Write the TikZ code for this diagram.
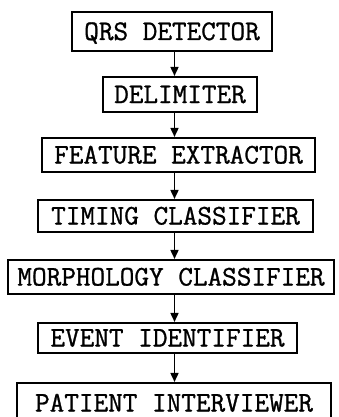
\documentclass[tikz,border=0pt]{standalone}
\usepackage{fontspec}
\newfontfamily\twfont{Latin Modern Mono}[FakeBold=1.0]
\usetikzlibrary{arrows.meta}
\tikzset{
  box/.style={draw, line width=1.5pt, rectangle, inner sep=0pt, align=center,
    font=\fontsize{28.4}{30}\selectfont\twfont, text height=17pt, text depth=0pt},
  arr/.style={line width=1.6pt, -{Triangle[length=9pt,width=8pt]}, shorten >=0.3pt}
}
\begin{document}
\begin{tikzpicture}[x=1pt,y=-1pt]
\useasboundingbox (0,0) rectangle (339,417);
\clip (0,0) rectangle (339,417);
\coordinate (ax) at (174.5,0);
\node[box, minimum width=200pt, minimum height=39pt] (n1) at (172,31.5) {QRS DETECTOR};
\node[box, minimum width=154pt, minimum height=35pt] (n2) at (180,94.5) {DELIMITER};
\node[box, minimum width=273pt, minimum height=34pt] (n3) at (178.5,155) {FEATURE EXTRACTOR};
\node[box, minimum width=275pt, minimum height=32pt] (n4) at (175.5,216) {TIMING CLASSIFIER};
\node[box, minimum width=326pt, minimum height=34pt] (n5) at (171,277) {MORPHOLOGY CLASSIFIER};
\node[box, minimum width=259pt, minimum height=30pt] (n6) at (167.5,338) {EVENT IDENTIFIER};
\node[box, minimum width=314pt, minimum height=40pt] (n7) at (174,403) {PATIENT INTERVIEWER};
\draw[arr] (n1.south -| ax) -- (n2.north -| ax);
\draw[arr] (n2.south -| ax) -- (n3.north -| ax);
\draw[arr] (n3.south -| ax) -- (n4.north -| ax);
\draw[arr] (n4.south -| ax) -- (n5.north -| ax);
\draw[arr] (n5.south -| ax) -- (n6.north -| ax);
\draw[arr] (n6.south -| ax) -- (n7.north -| ax);
\end{tikzpicture}
\end{document}
